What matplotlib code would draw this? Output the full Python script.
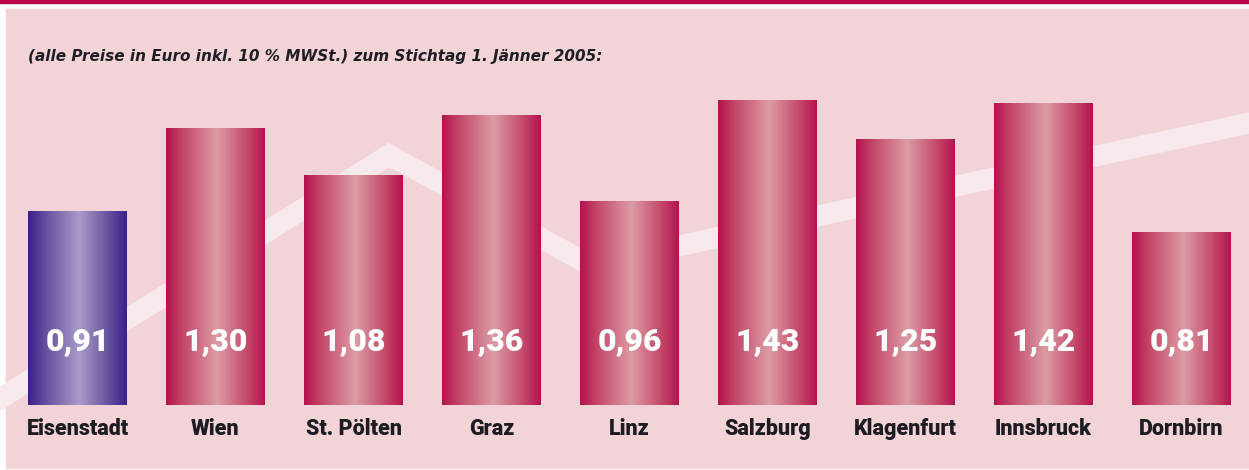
import matplotlib
matplotlib.use("Agg")
import matplotlib.pyplot as plt
import numpy as np
from matplotlib.colors import LinearSegmentedColormap
from matplotlib.patches import Rectangle

CITIES = ["Eisenstadt", "Wien", "St. Pölten", "Graz", "Linz",
          "Salzburg", "Klagenfurt", "Innsbruck", "Dornbirn"]
PRICES = [0.91, 1.30, 1.08, 1.36, 0.96, 1.43, 1.25, 1.42, 0.81]
LABELS = ["0,91", "1,30", "1,08", "1,36", "0,96", "1,43", "1,25", "1,42", "0,81"]
HIGHLIGHT = "Eisenstadt"

SUBTITLE = "(alle Preise in Euro inkl. 10 % MWSt.) zum Stichtag 1. Jänner 2005:"

BG = "#f2d4d8"
TOPLINE = "#b8004a"
DECO = "#f7e9ec"

red_cmap = LinearSegmentedColormap.from_list(
    "red", [(0, "#b5124e"), (0.18, "#c4496a"), (0.52, "#dc9ca4"),
            (0.82, "#c4496a"), (1, "#b5124e")])
blue_cmap = LinearSegmentedColormap.from_list(
    "blue", [(0, "#38228a"), (0.2, "#6a55a0"), (0.52, "#a99bca"),
             (0.8, "#6a55a0"), (1, "#38228a")])

W, H = 1249, 470
fig = plt.figure(figsize=(W / 100, H / 100), dpi=100)

# background decoration in pixel coords
bg = fig.add_axes([0, 0, 1, 1])
bg.set_xlim(0, W)
bg.set_ylim(H, 0)
bg.axis("off")
bg.add_patch(Rectangle((0, 0), W, H, color="white", zorder=0))
bg.add_patch(Rectangle((0, 0), W, 3, color=TOPLINE, zorder=1))
bg.add_patch(Rectangle((6, 9), W - 6, 459, color=BG, zorder=1))
bg.plot([-5, 389, 590, W + 5], [402, 155, 265, 122], color=DECO,
        lw=15, solid_joinstyle="miter", zorder=2)
bg.text(28, 57, SUBTITLE, fontsize=11.0, fontstyle="italic", fontweight="bold",
        family=["DejaVu Sans"], color="#1e1e24",
        va="center", ha="left", zorder=3)

# bar chart
ax = fig.add_axes([8.5 / W, 65 / H, 1242 / W, 340.8 / H])
ax.patch.set_alpha(0)
x = np.arange(len(CITIES))
bars = ax.bar(x, PRICES, width=0.717, color="none", edgecolor="none")
grad = np.linspace(0, 1, 256).reshape(1, -1)
for b, city, lab in zip(bars, CITIES, LABELS):
    x0, w, h = b.get_x(), b.get_width(), b.get_height()
    cmap = blue_cmap if city == HIGHLIGHT else red_cmap
    im = ax.imshow(grad, cmap=cmap, aspect="auto",
                   extent=(x0, x0 + w, 0, h), zorder=2)
    im.set_clip_path(b)
    ax.text(x0 + w / 2, 0.30, lab, ha="center", va="center",
            fontsize=23, fontweight="black", family=["Roboto", "DejaVu Sans"],
            color="white", zorder=3)
    ax.text(x0 + w / 2, -0.111, city, ha="center", va="center",
            fontsize=15.5, fontweight="black", family=["Roboto", "DejaVu Sans"],
            color="#1c1c22", clip_on=False, zorder=3)
ax.set_xlim(-0.5, len(CITIES) - 0.5)
ax.set_ylim(0, 1.6)
ax.axis("off")

fig.savefig("out.png", dpi=100)
